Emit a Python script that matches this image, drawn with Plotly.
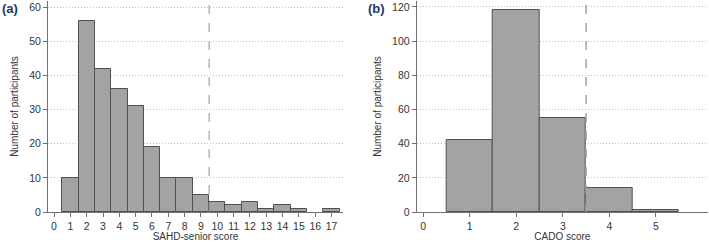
import plotly.graph_objects as go
from plotly.subplots import make_subplots

sahd_scores = list(range(0, 18))
sahd_counts = [0, 10, 56, 42, 36, 31, 19, 10, 10, 5, 3, 2, 3, 1, 2, 1, 0, 1]
cado_scores = [1, 2, 3, 4, 5]
cado_counts = [42, 118, 55, 14, 1]
sahd_cutoff = 9.5
cado_cutoff = 3.5

W, H = 709, 242
fig = make_subplots(rows=1, cols=2)

def nz(vals):
    return [v if v > 0 else None for v in vals]

bar_style = dict(marker=dict(color="#a3a3a3", line=dict(color="#505050", width=1)), width=1.0, showlegend=False)
fig.add_trace(go.Bar(x=sahd_scores, y=nz(sahd_counts), **bar_style), row=1, col=1)
fig.add_trace(go.Bar(x=cado_scores, y=nz(cado_counts), **bar_style), row=1, col=2)

font = dict(family="Liberation Sans, Arial, sans-serif", size=10, color="#333333")
tick_font = dict(family="Liberation Sans, Arial, sans-serif", size=10.5, color="#333333")
axis_common = dict(showline=True, linecolor="#707070", linewidth=1, ticks="outside", ticklen=4,
                   tickcolor="#707070", tickfont=tick_font, zeroline=False, automargin=False)
grid_common = dict(showgrid=True, gridcolor="#c4c4c4", griddash="1px,2px", gridwidth=1)

fig.update_layout(
    width=W, height=H, margin=dict(l=0, r=0, t=0, b=0),
    plot_bgcolor="white", paper_bgcolor="white", bargap=0, font=font,
    xaxis=dict(domain=[48/W, 343/W], range=[-0.37, 17.7], tickvals=sahd_scores, showgrid=False,
               title=dict(text="SAHD-senior score", font=font, standoff=2), **axis_common),
    xaxis2=dict(domain=[416.7/W, 708/W], range=[-0.14, 6.12], tickvals=[0, 1, 2, 3, 4, 5], showgrid=False,
                title=dict(text="CADO score", font=font, standoff=2), **axis_common),
    yaxis=dict(domain=[1 - 212/H, 1 - 1/H], range=[0, 61.76], tickvals=[0, 10, 20, 30, 40, 50, 60],
               title=dict(text="Number of participants", font=font, standoff=8), **grid_common, **axis_common),
    yaxis2=dict(domain=[1 - 212/H, 1 - 1/H], range=[0, 123.5], tickvals=[0, 20, 40, 60, 80, 100, 120],
                title=dict(text="Number of participants", font=font, standoff=8), **grid_common, **axis_common),
)

fig.add_shape(type="line", xref="x", yref="y domain", x0=sahd_cutoff, x1=sahd_cutoff, y0=0, y1=1,
              line=dict(color="#909090", width=1, dash="dash"))
fig.add_shape(type="line", xref="x2", yref="y2 domain", x0=cado_cutoff, x1=cado_cutoff, y0=0, y1=1,
              line=dict(color="#a0a0a0", width=1.5, dash="dash"))

label_font = dict(family="Liberation Sans, Arial, sans-serif", size=13, color="#1f3864")
fig.add_annotation(text="<b>(a)</b>", xref="paper", yref="paper", x=0, y=1 - 8/H,
                   xanchor="left", yanchor="middle", showarrow=False, font=label_font)
fig.add_annotation(text="<b>(b)</b>", xref="paper", yref="paper", x=366/W, y=1 - 8/H,
                   xanchor="left", yanchor="middle", showarrow=False, font=label_font)

fig.write_html("out.html", config={"displayModeBar": False},
               post_script="document.body.style.margin='0';document.body.style.padding='0';document.body.style.overflow='hidden';")
